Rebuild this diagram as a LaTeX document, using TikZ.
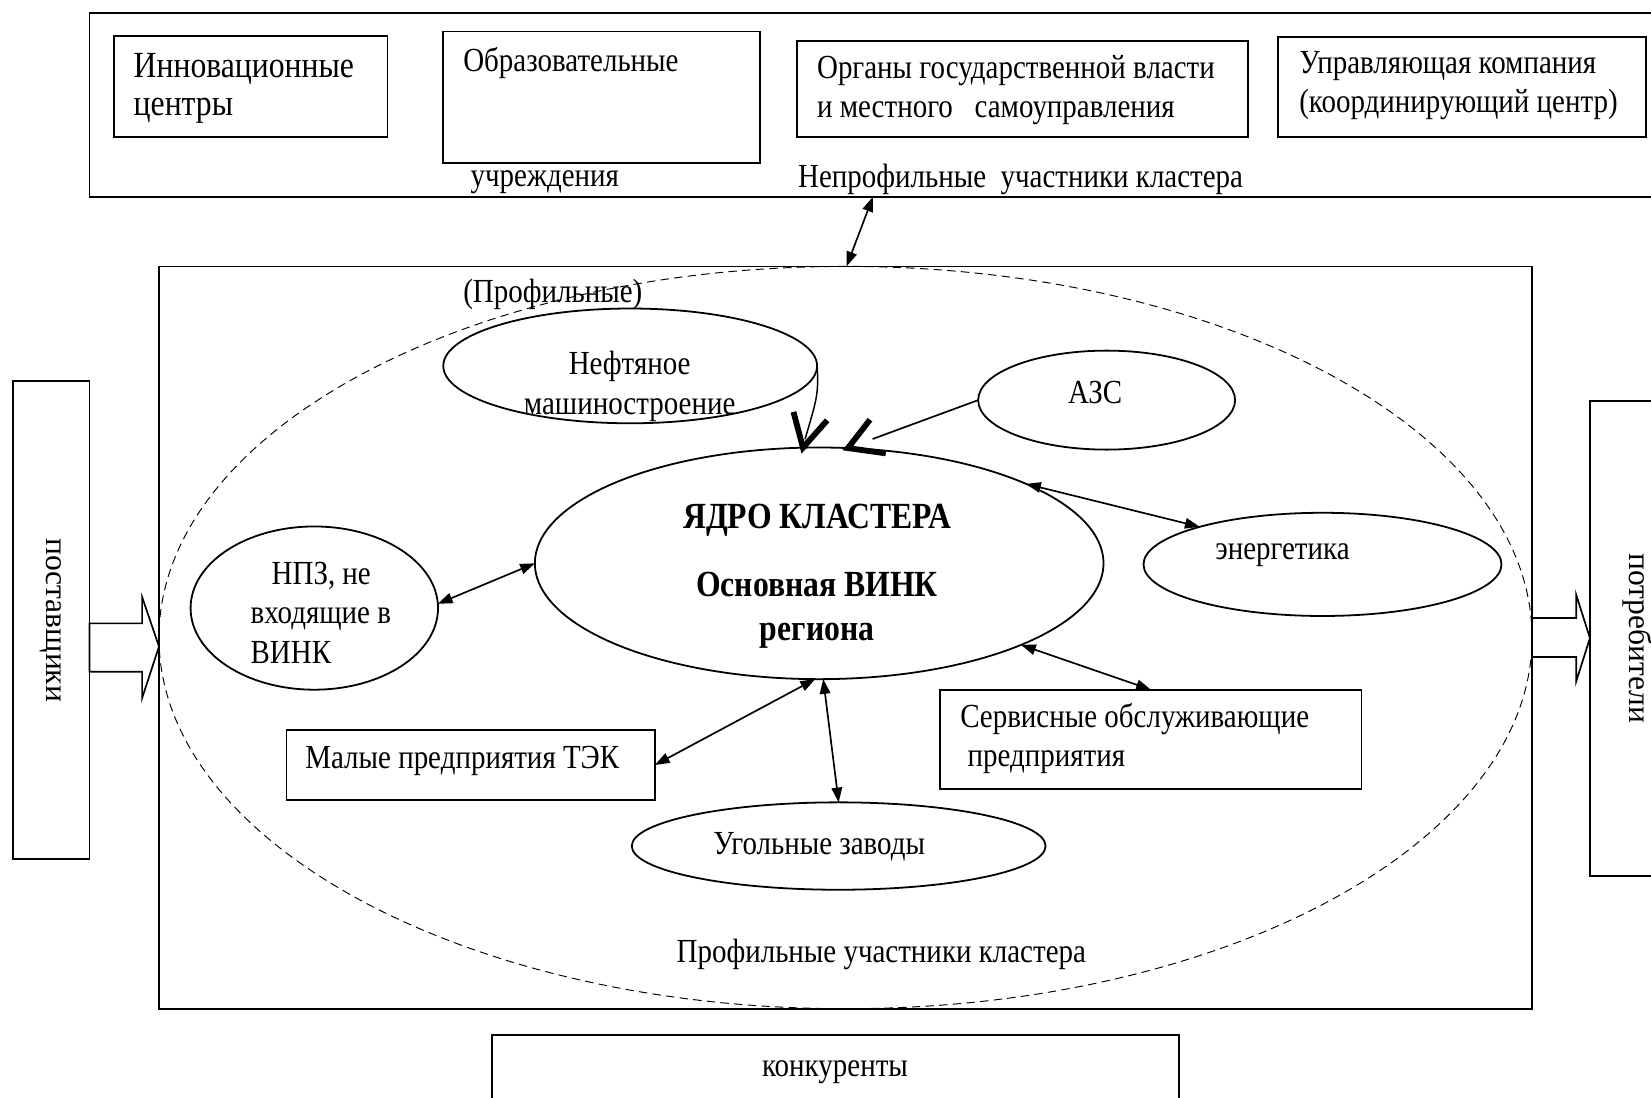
\documentclass[tikz,border=0pt]{standalone}
\usepackage{fontspec}
\setmainfont{Liberation Serif}[FakeStretch=0.86]
\newfontfamily\rotfont{Liberation Serif}
\usetikzlibrary{arrows.meta,calc,shapes.geometric}
\newcommand\dfont{\fontsize{32}{37.5}\selectfont}
\newcommand\bfont{\fontsize{35}{41}\selectfont\bfseries}
\begin{document}
\begin{tikzpicture}[x=1pt,y=-1pt, line width=1.7pt,
  every node/.style={inner sep=0pt, outer sep=0pt},
  rbox/.style={draw, rectangle},
  oval/.style={draw, ellipse},
  lbl/.style={font=\dfont, align=left, anchor=west, yshift=-3pt},
  clbl/.style={font=\dfont, align=center, yshift=-3pt},
  dbl/.style={{Triangle[length=14pt,width=10pt]}-{Triangle[length=14pt,width=10pt]}, line width=1.6pt},
  barb/.style={line width=5.5pt, miter limit=10},
  hollow/.style={draw, line width=1.6pt, fill=white}]
\clip (0,0) rectangle (1568,1042);
\fill[white] (0,0) rectangle (1568,1042);

% top group
\node[rbox, minimum width=1515pt, minimum height=175pt] (topbox) at (842.5,99.5) {};
\node[rbox, minimum width=260pt, minimum height=96pt] (inno) at (238,82) {};
\node[rbox, minimum width=301pt, minimum height=125pt] (edu) at (571.5,92.5) {};
\node[rbox, minimum width=428pt, minimum height=91pt] (gov) at (971,84.5) {};
\node[rbox, minimum width=349pt, minimum height=95pt] (mgmt) at (1388.5,82.5) {};
\node[lbl, font=\fontsize{35}{36}\selectfont] (tinno) at (127,81) {Инновационные\\центры};
\node[lbl] (tedu) at (440,57) {Образовательные};
\node[lbl] (tedu2) at (447,170) {учреждения};
\node[lbl] (tgov) at (776,82.5) {Органы государственной власти\\и местного\ \ \ самоуправления};
\node[lbl] (tmgmt) at (1234,78.5) {Управляющая компания\\(координирующий центр)};
\node[lbl] (tnon) at (758,167) {Непрофильные\ \ участники кластера};

% main frame
\node[rbox, minimum width=1304pt, minimum height=705pt] (mainbox) at (803,605.5) {};
\draw[dashed, line width=0.9pt, dash pattern=on 8pt off 5pt] (803,605.5) ellipse [x radius=652pt, y radius=352.5pt];
\node[lbl] (tprof1) at (440,276.5) {(Профильные)};

% side boxes
\node[rbox, minimum width=73pt, minimum height=454pt] (supp) at (48.5,589) {};
\node[rbox, minimum width=90pt, minimum height=451pt] (cons) at (1555,606.5) {};
\node[rotate=-90, font=\rotfont\fontsize{30}{34}\selectfont] (tsupp) at (48.5,589) {поставщики};
\node[rotate=-90, font=\rotfont\fontsize{30}{34}\selectfont] (tcons) at (1555,606) {потребители};
\draw[hollow] (85,592) -- (135,592) -- (135,567) -- (151,614) -- (135,663) -- (135,638) -- (85,638) -- cycle;
\draw[hollow] (1455,587) -- (1497,587) -- (1497,565) -- (1510,606) -- (1497,647) -- (1497,624) -- (1455,624) -- cycle;

% competitors
\node[rbox, minimum width=653pt, minimum height=77pt] (comp) at (793.5,1021.5) {};
\node[clbl] (tcomp) at (793,1015) {конкуренты};

% ellipses
\node[oval, minimum width=355pt, minimum height=109pt] (nef) at (598.5,347.5) {};
\node[clbl] (tnef) at (598,364) {Нефтяное\\машиностроение};
\node[oval, minimum width=244pt, minimum height=94pt] (azs) at (1051,380) {};
\node[clbl] (tazs) at (1040,369.5) {АЗС};
\node[oval, minimum width=540pt, minimum height=220pt] (core) at (778,535) {};
\node[align=center, font=\bfont] (tcore) at (776,547) {ЯДРО КЛАСТЕРА\\[24pt]Основная ВИНК\\региона};
\node[oval, minimum width=340pt, minimum height=98pt] (energy) at (1256,536) {};
\node[clbl] (tenergy) at (1218,524) {энергетика};
\node[oval, minimum width=235pt, minimum height=155pt] (npz) at (298.5,577.5) {};
\node[lbl] (tnpz) at (238,579) {\hspace*{20pt}НПЗ, не\\входящие в\\ВИНК};
\node[oval, minimum width=393pt, minimum height=83pt] (coal) at (796.5,803.5) {};
\node[clbl] (tcoal) at (778,801) {Угольные заводы};

% rectangles inside
\node[rbox, minimum width=350pt, minimum height=67pt] (small) at (447,726.5) {};
\node[lbl] (tsmall) at (290,720) {Малые предприятия ТЭК};
\node[rbox, minimum width=400pt, minimum height=94pt] (service) at (1093,702) {};
\node[lbl] (tservice) at (912,698.5) {Сервисные обслуживающие\\\hspace*{7pt}предприятия};
\node[clbl] (tprof2) at (837,903) {Профильные участники кластера};

% connectors
\coordinate (ta) at (829,187);
\coordinate (tb) at (804,253);
\draw[dbl] (ta) -- (tb);
\draw[dbl] (npz.2) -- (core.180);
\draw[dbl] (core.21) -- (energy.163);
\draw[dbl] (core.-22) -- (service.north);
\draw[dbl] (core.268) -- (small.east);
\draw[dbl] (core.272) -- (coal.north);

% thick open heads
\coordinate (vt) at (core.98);
\coordinate (lt) at (core.76);
\draw[line width=1.4pt] (nef.0) .. controls +(2,28) and +(10,-35) .. ($(vt)+(2,-8)$);
\draw[barb] ($(vt)+(-9,-34)$) -- (vt) -- ++(23,-26);
\draw[line width=1.6pt, shorten >=25pt] (azs.west) -- (lt);
\draw[barb] ($(lt)+(21,-27)$) -- (lt) -- ++(36,5);
\end{tikzpicture}
\end{document}
